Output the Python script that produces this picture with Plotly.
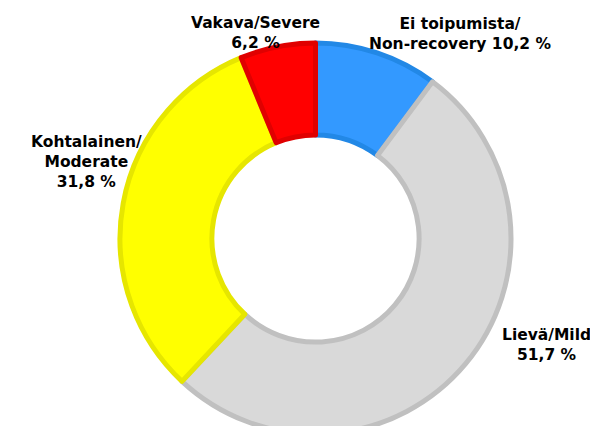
import plotly.graph_objects as go

# Data
categories = ["Ei toipumista/<br>Non-recovery", "Lievä/Mild", "Kohtalainen/<br>Moderate", "Vakava/Severe"]
values = [10.2, 51.7, 31.8, 6.2]
value_labels = ["10,2 %", "51,7 %", "31,8 %", "6,2 %"]
label_joiners = [" ", "<br>", "<br>", "<br>"]

# Styles
fill_colors = ["#3399FF", "#D9D9D9", "#FFFF00", "#FF0000"]
line_colors = ["#2288E6", "#C0C0C0", "#E6E600", "#E00000"]

# Label box positions (layout, pixel space of 598x426 canvas)
W, H = 598, 426
label_pos = [(452, 26), (538, 337), (78, 154), (247, 25)]
cx, r = 307.5, 195.5

fig = go.Figure()
fig.add_trace(go.Pie(
    labels=[c.replace("<br>", " ") for c in categories],
    values=values,
    hole=0.53,
    sort=False,
    direction="clockwise",
    rotation=0,
    marker=dict(colors=fill_colors, line=dict(color=line_colors, width=5)),
    textinfo="none",
    hoverinfo="none",
    showlegend=False,
    domain=dict(x=[(cx - r) / W, (cx + r) / W], y=[0, 2 * r / H]),
))

for cat, vl, j, (px, py) in zip(categories, value_labels, label_joiners, label_pos):
    fig.add_annotation(
        x=px / W, y=1 - py / H, xref="paper", yref="paper",
        text=f"<b>{cat}{j}{vl}</b>",
        showarrow=False, xanchor="center", yanchor="middle", align="center",
        font=dict(family="DejaVu Sans", size=15.5, color="#000000"),
    )

fig.update_layout(
    width=W, height=H,
    margin=dict(l=0, r=0, t=0, b=0),
    paper_bgcolor="white", plot_bgcolor="white",
)

fig.write_html("out.html")
